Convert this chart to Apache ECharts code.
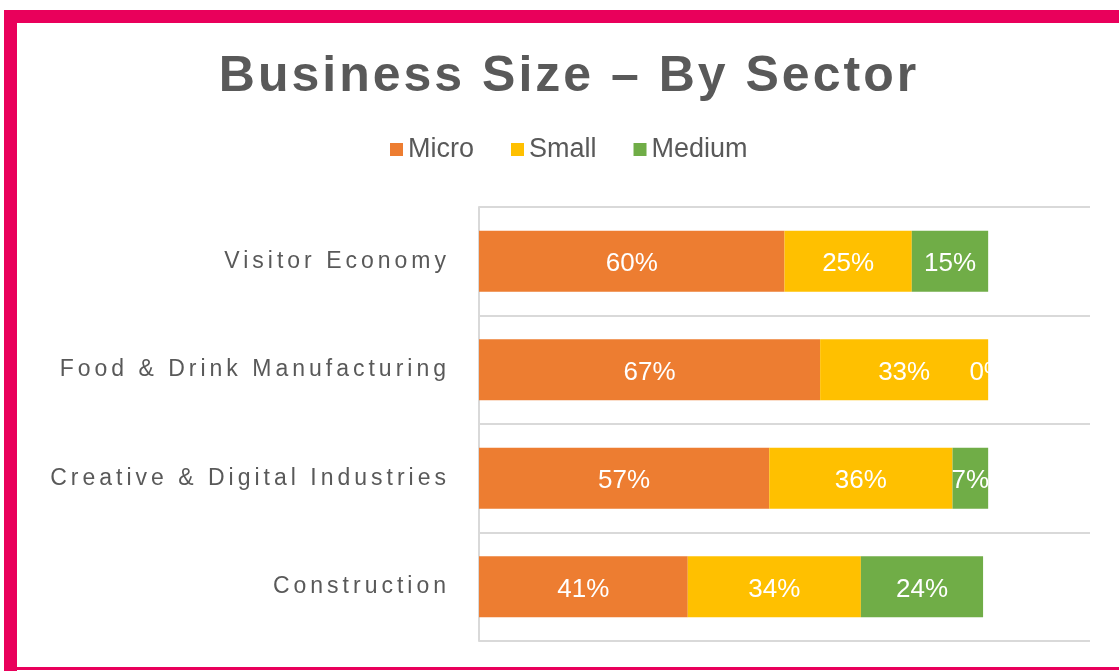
<!DOCTYPE html>
<html>
<head>
<meta charset="utf-8">
<style>
  html, body { margin: 0; padding: 0; background: #ffffff; }
  #chart { width: 1119px; height: 671px; }
</style>
<script src="https://cdn.jsdelivr.net/npm/echarts@6/dist/echarts.min.js"></script>
</head>
<body>
<div id="chart"></div>
<script>
// Share of businesses by size band, per sector (percent)
const sectors = ['Visitor Economy', 'Food & Drink Manufacturing', 'Creative & Digital Industries', 'Construction'];
const micro = [60, 67, 57, 41];
const small = [25, 33, 36, 34];
const medium = [15, 0, 7, 24];
const sizeNames = ['Micro', 'Small', 'Medium'];

const FONT = '"Liberation Sans", Arial, Helvetica, sans-serif';
const GREY = '#595959';
const PINK = '#E9005B';

// Spaced-out lettering for the title and the sector names: the canvas
// letterSpacing is chosen by font size on every text draw (0px otherwise).
const spacingBySize = { 50: '3px', 23: '4px' };
const baseFillText = CanvasRenderingContext2D.prototype.fillText;
CanvasRenderingContext2D.prototype.fillText = function (text, x, y, maxWidth) {
  if ('letterSpacing' in this) {
    const f = this.font || '';
    const m = /(\d+(?:\.\d+)?)px/.exec(f);
    const sp = (m && spacingBySize[Math.round(parseFloat(m[1]))]) || '0px';
    if (this.letterSpacing !== sp) {
      this.letterSpacing = sp;
      this.font = f;
    }
  }
  return maxWidth === undefined
    ? baseFillText.call(this, text, x, y)
    : baseFillText.call(this, text, x, y, maxWidth);
};

const chart = echarts.init(document.getElementById('chart'), null, { renderer: 'canvas' });

function barSeries(name, values, color) {
  return {
    name: name,
    type: 'bar',
    stack: 'total',
    data: values,
    barWidth: 61,
    itemStyle: { color: color },
    label: {
      show: true,
      position: 'inside',
      offset: [0, 3],
      formatter: '{c}%',
      color: '#ffffff',
      fontFamily: FONT,
      fontSize: 26
    },
    emphasis: { disabled: true }
  };
}

chart.setOption({
  animation: false,
  backgroundColor: '#ffffff',
  textStyle: { fontFamily: FONT },
  title: {
    text: 'Business Size \u2013 By Sector',
    left: 569,
    top: 52,
    textAlign: 'center',
    padding: 0,
    textStyle: { fontFamily: FONT, fontSize: 50, fontWeight: 'bold', color: GREY }
  },
  legend: {
    data: sizeNames,
    left: 390,
    top: 136,
    padding: 0,
    itemWidth: 13,
    itemHeight: 13,
    itemGap: 37,
    icon: 'rect',
    selectedMode: false,
    textStyle: { fontFamily: FONT, fontSize: 27, color: GREY }
  },
  grid: { left: 479, right: 29, top: 207, bottom: 30, containLabel: false },
  xAxis: {
    type: 'value',
    min: 0,
    max: 120,
    show: false
  },
  yAxis: {
    type: 'category',
    data: sectors,
    inverse: true,
    axisLine: { show: true, lineStyle: { color: '#d9d9d9', width: 2 } },
    axisTick: { show: false },
    splitLine: { show: true, lineStyle: { color: '#d9d9d9', width: 2 } },
    axisLabel: {
      interval: 0,
      margin: 29,
      padding: [4, 0, 0, 0],
      fontFamily: FONT,
      fontSize: 23,
      color: GREY
    }
  },
  series: [
    barSeries(sizeNames[0], micro, '#ED7D31'),
    barSeries(sizeNames[1], small, '#FFC000'),
    barSeries(sizeNames[2], medium, '#70AD47')
  ],
  graphic: [
    { type: 'rect', shape: { x: 4, y: 10, width: 1115, height: 13 }, style: { fill: PINK }, silent: true },
    { type: 'rect', shape: { x: 4, y: 10, width: 13, height: 661 }, style: { fill: PINK }, silent: true },
    { type: 'rect', shape: { x: 4, y: 667, width: 1115, height: 3 }, style: { fill: PINK }, silent: true }
  ]
});
</script>
</body>
</html>
